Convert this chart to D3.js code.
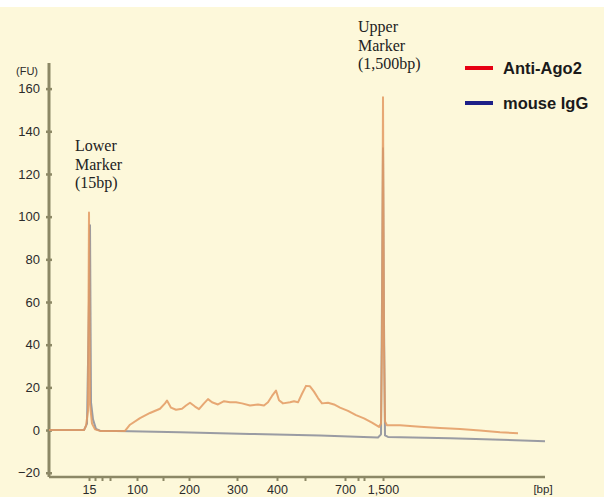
<!DOCTYPE html>
<html>
<head>
<meta charset="utf-8">
<script src="https://cdn.jsdelivr.net/npm/d3@7"></script>
<style>
  html, body { margin: 0; padding: 0; background: #ffffff; }
  svg { display: block; }
  .tick-label { font-family: "Liberation Sans", Arial, sans-serif; fill: #2b2b2b; }
  .marker-note { font-family: "Liberation Serif", "Times New Roman", serif; font-size: 16px; fill: #222; }
  .legend-text { font-family: "Liberation Sans", Arial, sans-serif; font-size: 16.5px; font-weight: bold; fill: #1a1a1a; }
</style>
</head>
<body>
<svg id="chart" width="604" height="497"></svg>
<script>
// migration time (s) -> size ladder
const ladderBp   = [15, 25, 35, 50, 100, 150, 200, 300, 400, 500, 700, 850, 1000, 1500];
const ladderTime = [48.0, 49.2, 50.6, 52.2, 57.6, 62.8, 68.0, 77.6, 85.6, 91.2, 99.2, 101.8, 103.0, 106.8];
const labelledBp = [15, 100, 200, 300, 400, 700, 1500];

const yTicks = [-20, 0, 20, 40, 60, 80, 100, 120, 140, 160];

// [time, FU]
const ago2 = [
    [40, 0], [47.0, 0], [47.4, 2], [47.8, 9], [48.0, 102], [48.2, 12], [48.6, 3],
    [49.2, 0.3], [50.2, -0.4], [55.2, -0.4], [56.2, 2.5], [58.2, 5.6], [60.2, 8],
    [62.2, 10], [63.2, 12.5], [63.6, 13.8], [64.4, 10.5], [65.4, 9.5], [66.6, 10],
    [67.4, 11.5], [68.2, 12.8], [69.2, 11], [70.0, 9.8], [71.0, 12.5], [71.8, 14.5],
    [72.6, 13], [73.8, 12], [75.0, 13.5], [76.2, 13], [77.4, 13], [78.6, 12.5],
    [80.2, 11.5], [81.8, 12], [83.0, 11.5], [83.8, 13], [84.6, 16], [85.4, 18.5],
    [86.0, 14], [86.8, 12.5], [88.2, 13], [89.0, 13.5], [89.8, 13], [90.6, 17],
    [91.4, 20.7], [92.2, 20.5], [93.0, 18], [93.8, 15], [94.6, 12.5], [95.8, 12.8],
    [97.0, 12], [98.2, 10.5], [99.8, 9], [101.4, 7], [103.0, 5.5], [104.6, 3.5],
    [106.0, 1.5], [106.4, 3], [106.6, 40], [106.8, 156], [107.0, 40], [107.2, 4],
    [107.6, 2.3], [110.2, 2.2], [114.2, 1.6], [118.2, 1], [122.2, 0.5], [126.2, -0.2],
    [130.2, -1], [133.8, -1.5]
];

const igg = [
    [40, 0], [47.0, 0], [47.6, 3], [48.0, 60], [48.2, 96], [48.4, 13], [48.8, 5],
    [49.4, 0.5], [50.2, -0.3], [56.2, -0.6], [66.2, -1], [80.2, -1.8], [94.2, -2.6],
    [105.8, -3.5], [106.4, -2], [106.6, 60], [106.8, 132], [107.0, 50], [107.2, -2.5],
    [107.8, -3.2], [120.2, -3.8], [139.2, -5.2]
];

const legendItems = [
    { name: "Anti-Ago2", color: "#e60012" },
    { name: "mouse IgG", color: "#1d2088" }
];

const svg = d3.select("#chart");

svg.append("rect")
    .attr("x", 0).attr("y", 7)
    .attr("width", 604).attr("height", 490)
    .attr("fill", "#fdf8da");

const x = d3.scaleLinear().domain([40, 139.2]).range([49, 545]);
const y = d3.scaleLinear().domain([-22, 172]).range([477, 63]);

const axisColor = "#8c8866";

// y axis
const yAxis = svg.append("g")
    .attr("transform", `translate(${x(40)},0)`)
    .call(d3.axisLeft(y).tickValues(yTicks).tickSize(4).tickPadding(5));
yAxis.select(".domain").remove();
yAxis.append("line")
    .attr("x1", 0).attr("x2", 0)
    .attr("y1", y.range()[1]).attr("y2", y.range()[0])
    .attr("stroke", axisColor).attr("stroke-width", 3);
yAxis.selectAll(".tick line").attr("stroke", axisColor).attr("stroke-width", 2.5).attr("x2", 3).attr("x1", -3);
yAxis.selectAll(".tick text")
    .attr("class", "tick-label").attr("fill", null).attr("x", -9)
    .attr("font-size", null)
    .style("font-size", "13px");

svg.append("text")
    .attr("class", "tick-label")
    .attr("x", 38).attr("y", 75)
    .attr("text-anchor", "end")
    .style("font-size", "11px")
    .text("(FU)");

// x axis
const xAxis = svg.append("g")
    .attr("transform", `translate(0,${y.range()[0]})`)
    .call(d3.axisBottom(x).tickValues(ladderTime).tickSize(4).tickPadding(6)
        .tickFormat(t => {
            const bp = ladderBp[ladderTime.indexOf(t)];
            return labelledBp.includes(bp) ? d3.format(",")(bp) : "";
        }));
xAxis.select(".domain").remove();
xAxis.append("line")
    .attr("x1", x.range()[0]).attr("x2", x.range()[1])
    .attr("y1", 0).attr("y2", 0)
    .attr("stroke", axisColor).attr("stroke-width", 2.5);
xAxis.selectAll(".tick line").attr("stroke", axisColor).attr("stroke-width", 2);
xAxis.selectAll(".tick text")
    .attr("class", "tick-label").attr("fill", null)
    .attr("y", 16.5).attr("dy", null)
    .style("font-size", "12.5px");

svg.append("text")
    .attr("class", "tick-label")
    .attr("x", x.range()[1] - 2).attr("y", 493)
    .attr("text-anchor", "middle")
    .style("font-size", "11.5px")
    .text("[bp]");

// traces
const line = d3.line()
    .x(d => x(d[0]))
    .y(d => y(d[1]));

svg.append("path")
    .datum(igg)
    .attr("d", line)
    .attr("fill", "none")
    .attr("stroke", "#8f919c")
    .attr("stroke-width", 2)
    .attr("stroke-linejoin", "round")
    .attr("opacity", 0.9);

svg.append("path")
    .datum(ago2)
    .attr("d", line)
    .attr("fill", "none")
    .attr("stroke", "#e39a62")
    .attr("stroke-width", 2)
    .attr("stroke-linejoin", "round")
    .attr("opacity", 0.85);

// marker notes
const notes = [
    { lines: ["Lower", "Marker", "(15bp)"], x: 75, y: 151 },
    { lines: ["Upper", "Marker", "(1,500bp)"], x: 358, y: 32 }
];
notes.forEach(n => {
    const t = svg.append("text").attr("class", "marker-note");
    n.lines.forEach((s, i) => {
        t.append("tspan").attr("x", n.x).attr("y", n.y + i * 18.7).text(s);
    });
});

// legend
const legend = svg.append("g").attr("transform", "translate(465,68)");
legendItems.forEach((d, i) => {
    const g = legend.append("g").attr("transform", `translate(0,${i * 35})`);
    g.append("line")
        .attr("x1", 0).attr("x2", 28)
        .attr("stroke", d.color).attr("stroke-width", 4);
    g.append("text")
        .attr("class", "legend-text")
        .attr("x", 38).attr("dy", "0.36em")
        .text(d.name);
});
</script>
</body>
</html>
